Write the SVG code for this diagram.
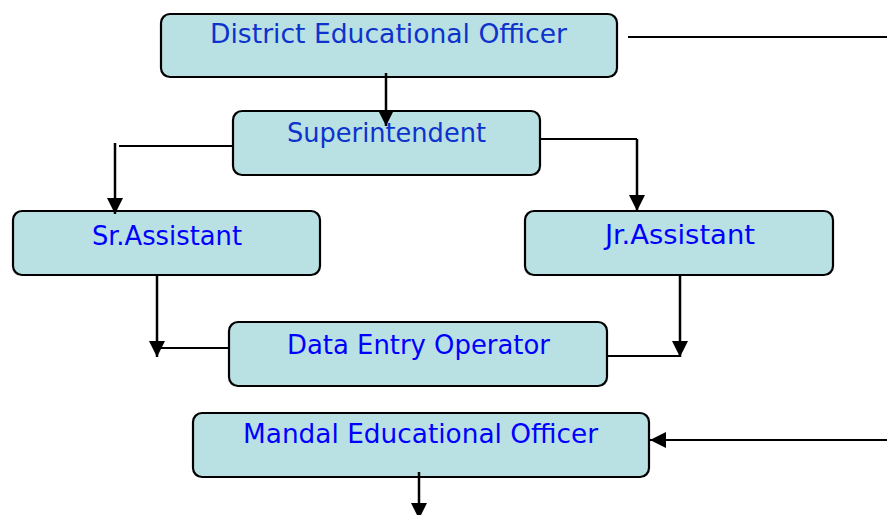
<svg xmlns="http://www.w3.org/2000/svg" width="887" height="515" viewBox="0 0 887 515">
<style>
.box{fill:#b9e0e3;stroke:#000;stroke-width:2.2}
.lbl{font-family:"DejaVu Sans Condensed","DejaVu Sans",sans-serif;font-size:27px;fill:#0000ff;text-anchor:start}
.dk{fill:#0d33cc}
.ln{fill:none;stroke:#000;stroke-width:2}
.v{stroke-width:2.5}
</style>
<defs>
<marker id="ah" markerUnits="userSpaceOnUse" markerWidth="16" markerHeight="16" refX="15" refY="7.5" orient="auto" viewBox="0 0 15 15">
<path d="M0,0 L15,7.5 L0,15 z" fill="#000"/>
</marker>
</defs>
<rect width="887" height="515" fill="#fff"/>
<g id="deo"><rect class="box" x="161" y="14" width="456" height="63" rx="9"/><text class="lbl dk" x="210" y="43" textLength="357" lengthAdjust="spacingAndGlyphs">District Educational Officer</text></g>
<g id="sup"><rect class="box" x="233" y="111" width="307" height="64" rx="9"/><text class="lbl dk" x="287" y="142" textLength="199" lengthAdjust="spacingAndGlyphs">Superintendent</text></g>
<g id="sr"><rect class="box" x="13" y="211" width="307" height="64" rx="9"/><text class="lbl" x="92" y="245" textLength="150" lengthAdjust="spacingAndGlyphs">Sr.Assistant</text></g>
<g id="jr"><rect class="box" x="525" y="211" width="308" height="64" rx="9"/><text class="lbl" x="605" y="244" textLength="150" lengthAdjust="spacingAndGlyphs">Jr.Assistant</text></g>
<g id="deop"><rect class="box" x="229" y="322" width="378" height="64" rx="9"/><text class="lbl" x="287" y="354" textLength="263" lengthAdjust="spacingAndGlyphs">Data Entry Operator</text></g>
<g id="meo"><rect class="box" x="193" y="413" width="456" height="64" rx="9"/><text class="lbl" x="243" y="443" textLength="355" lengthAdjust="spacingAndGlyphs">Mandal Educational Officer</text></g>
<g id="connectors">
<path class="ln v" d="M386,73 V126" marker-end="url(#ah)"/>
<path class="ln" d="M232,146 H119"/>
<path class="ln v" d="M115,143 V214" marker-end="url(#ah)"/>
<path class="ln" d="M540,139 H637"/>
<path class="ln v" d="M637,139 V211" marker-end="url(#ah)"/>
<path class="ln v" d="M157,275 V357" marker-end="url(#ah)"/>
<path class="ln" d="M158,348 H229"/>
<path class="ln v" d="M680,275 V357" marker-end="url(#ah)"/>
<path class="ln" d="M607,356 H681"/>
<path class="ln" d="M628,37 H887"/>
<path class="ln" d="M887,440 H697"/>
<path class="ln" d="M698,440 H650" stroke-width="3" marker-end="url(#ah)"/>
<path class="ln v" d="M419,472 V519" marker-end="url(#ah)"/>
</g>
</svg>
